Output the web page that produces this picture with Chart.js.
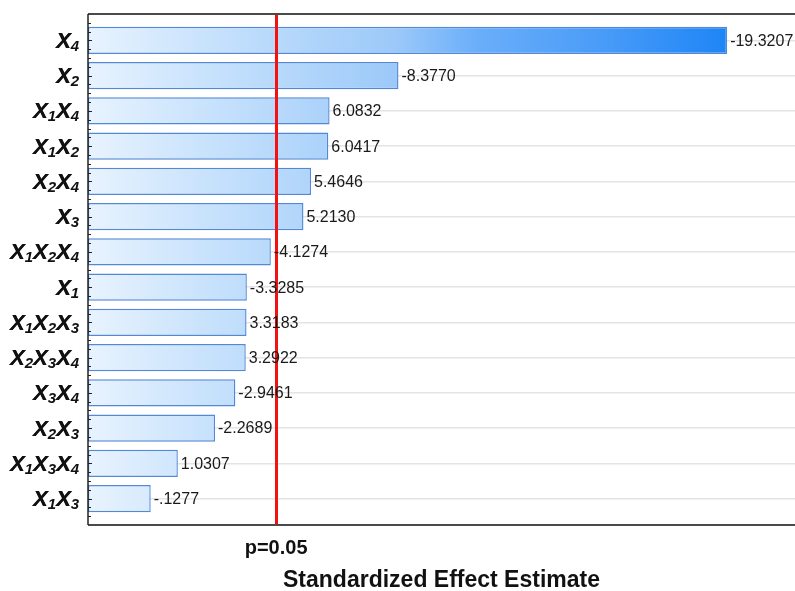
<!DOCTYPE html>
<html>
<head>
<meta charset="utf-8">
<script src="https://cdn.jsdelivr.net/npm/chart.js@4/dist/chart.umd.min.js"></script>
<style>
  html, body { margin: 0; padding: 0; background: #fff; }
  #wrap { width: 795px; height: 591px; position: relative; }
</style>
</head>
<body>
<div id="wrap"><canvas id="c"></canvas></div>
<script>
// Pareto chart of standardized effects (sorted by magnitude)
const terms = ['X4', 'X2', 'X1X4', 'X1X2', 'X2X4', 'X3', 'X1X2X4', 'X1',
               'X1X2X3', 'X2X3X4', 'X3X4', 'X2X3', 'X1X3X4', 'X1X3'];
const effects = [-19.3207, -8.3770, 6.0832, 6.0417, 5.4646, 5.2130, -4.1274, -3.3285,
                 3.3183, 3.2922, -2.9461, -2.2689, 1.0307, -0.1277];
const criticalT = 4.303;          // t value for p = 0.05
const criticalLabel = 'p=0.05';
const axisTitle = 'Standardized Effect Estimate';

const X_MIN = -1.96, X_MAX = 21.58;
const FONT = "'Liberation Sans', Arial, Helvetica, sans-serif";

function fmt(v) {
  let s = Math.abs(v).toFixed(4);
  if (Math.abs(v) < 1) s = s.replace(/^0/, '');
  return (v < 0 ? '-' : '') + s;
}

const maxAbs = Math.max(...effects.map(Math.abs));

function barGradient(ctx) {
  const chart = ctx.chart;
  const area = chart.chartArea;
  if (!area) return '#9cc8f8';
  const xs = chart.scales.x;
  const x0 = area.left, x1 = xs.getPixelForValue(maxAbs);
  const g = chart.ctx.createLinearGradient(x0, 0, x1, 0);
  g.addColorStop(0.00, '#e8f3fe');
  g.addColorStop(0.20, '#c6e1fc');
  g.addColorStop(0.48, '#9cc9f9');
  g.addColorStop(0.61, '#6aaefa');
  g.addColorStop(0.80, '#4a9cf8');
  g.addColorStop(1.00, '#1e85f6');
  return g;
}

const framePlugin = {
  id: 'frame',
  afterDatasetsDraw(chart) {
    const { ctx, chartArea: a, scales } = chart;
    ctx.save();
    // critical value line
    const px = Math.round(scales.x.getPixelForValue(criticalT)) + 0.5;
    ctx.strokeStyle = '#f21212';
    ctx.lineWidth = 3;
    ctx.beginPath(); ctx.moveTo(px, a.top); ctx.lineTo(px, a.bottom); ctx.stroke();

    // value labels at bar ends
    const meta = chart.getDatasetMeta(0);
    ctx.fillStyle = '#1a1a1a';
    ctx.font = '16px ' + FONT;
    ctx.textAlign = 'left';
    ctx.textBaseline = 'middle';
    meta.data.forEach((el, i) => {
      ctx.fillText(fmt(effects[i]), el.x + 3, el.y + 1);
    });

    // frame
    ctx.strokeStyle = '#4a4a4a';
    ctx.lineWidth = 2;
    ctx.beginPath();
    ctx.moveTo(a.left, a.top); ctx.lineTo(a.right, a.top);
    ctx.moveTo(a.left, a.bottom); ctx.lineTo(a.right, a.bottom);
    ctx.stroke();
    ctx.strokeStyle = '#222';
    ctx.lineWidth = 1.5;
    ctx.beginPath();
    ctx.moveTo(a.left, a.top); ctx.lineTo(a.left, a.bottom);
    ctx.stroke();

    // inward minor ticks on the category axis
    const ys = scales.y;
    ctx.lineWidth = 1.2;
    ctx.beginPath();
    for (let v = -0.5; v <= terms.length - 0.5 + 1e-9; v += 0.25) {
      const py = Math.round(ys.getPixelForValue(v)) + 0.5;
      const len = Math.abs(v - Math.round(v)) < 1e-9 ? 4 : 3;
      ctx.moveTo(a.left, py); ctx.lineTo(a.left + len, py);
    }
    ctx.stroke();

    // term labels with subscripts
    ctx.fillStyle = '#111';
    ctx.textBaseline = 'alphabetic';
    ctx.textAlign = 'left';
    const bigFont = 'italic bold 22px ' + FONT;
    const subFont = 'italic bold 15px ' + FONT;
    terms.forEach((t, i) => {
      const parts = t.match(/X\d/g);
      let w = 0;
      parts.forEach(p => {
        ctx.font = bigFont; w += ctx.measureText('X').width;
        ctx.font = subFont; w += ctx.measureText(p[1]).width;
      });
      const cy = ys.getPixelForValue(i);
      let x = 79 - w;
      parts.forEach(p => {
        ctx.font = bigFont;
        ctx.fillText('X', x, cy + 7.5);
        ctx.fillText('X', x + 0.4, cy + 7.5);   // slightly heavier strokes
        x += ctx.measureText('X').width;
        ctx.font = subFont;
        ctx.fillText(p[1], x, cy + 10.5);
        x += ctx.measureText(p[1]).width;
      });
    });
    ctx.restore();
  }
};

new Chart(document.getElementById('c'), {
  type: 'bar',
  data: {
    datasets: [{
      data: effects.map((v, i) => ({ x: Math.abs(v), y: i })),
      base: X_MIN,
      backgroundColor: barGradient,
      borderColor: '#5289d6',
      borderWidth: 1.4,
      borderSkipped: false,
      barPercentage: 0.77,
      categoryPercentage: 1
    }]
  },
  options: {
    indexAxis: 'y',
    responsive: true,
    maintainAspectRatio: false,
    animation: false,
    layout: { padding: { top: 14, right: 0, left: 0, bottom: 0 } },
    plugins: { legend: { display: false }, tooltip: { enabled: false } },
    scales: {
      y: {
        type: 'linear',
        reverse: true,
        offset: false,
        min: -0.75,
        max: terms.length - 0.25,
        afterBuildTicks: s => { s.ticks = terms.map((_, i) => ({ value: i })); },
        afterFit: s => { s.width = 88; },
        ticks: { display: false },
        grid: { color: '#e4e4e4', lineWidth: 1.5, drawTicks: false, offset: false },
        border: { display: false }
      },
      x: {
        type: 'linear',
        min: X_MIN,
        max: X_MAX,
        afterBuildTicks: s => { s.ticks = [{ value: criticalT }]; },
        afterFit: s => { s.height = 66; },
        ticks: {
          callback: () => criticalLabel,
          font: { family: FONT, size: 20, weight: 'bold' },
          color: '#111',
          padding: 11,
          maxRotation: 0
        },
        grid: { display: false, drawTicks: false },
        border: { display: false },
        title: {
          display: true,
          text: axisTitle,
          font: { family: FONT, size: 23, weight: 'bold', lineHeight: 0.9 },
          color: '#111',
          padding: { top: 6, bottom: 0 }
        }
      }
    }
  },
  plugins: [framePlugin]
});
</script>
</body>
</html>
